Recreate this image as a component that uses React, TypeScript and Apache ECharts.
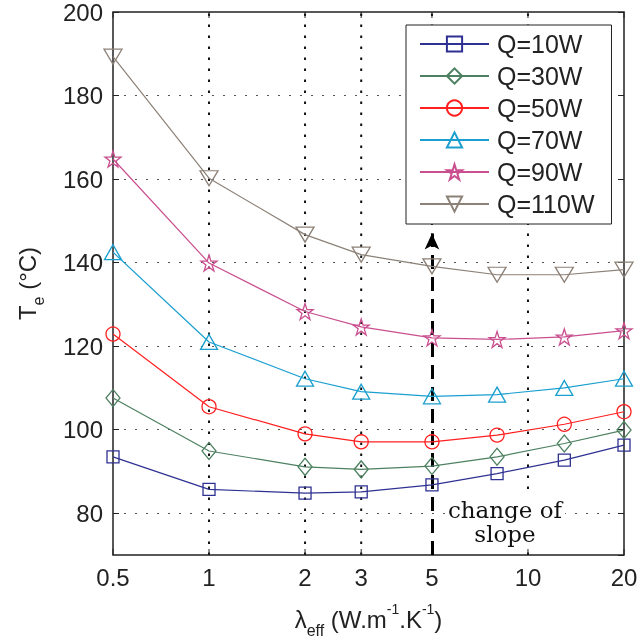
import React, { useEffect, useRef } from "react";
import * as echarts from "echarts";

const lambdaEff = [0.5, 1, 2, 3, 5, 8, 13, 20];
const q10 = [93.5, 85.7, 84.8, 85.1, 86.8, 89.5, 92.7, 96.3];
const q30 = [107.6, 94.9, 91.1, 90.5, 91.3, 93.5, 96.7, 99.9];
const q50 = [122.9, 105.5, 99.0, 97.1, 97.1, 98.7, 101.3, 104.3];
const q70 = [142.5, 121.0, 112.2, 109.1, 108.0, 108.4, 110.0, 112.2];
const q90 = [164.8, 139.9, 128.3, 124.6, 122.0, 121.6, 122.2, 123.7];
const q110 = [189.3, 160.2, 146.7, 141.9, 139.1, 137.1, 137.1, 138.3];
const seriesNames = ["Q=10W", "Q=30W", "Q=50W", "Q=70W", "Q=90W", "Q=110W"];

const xTicks = [0.5, 1, 2, 3, 5, 10, 20];
const xGrid = [1, 2, 3, 5, 10];
const X_MIN = 0.5;
const X_MAX = 20;
const Y_MIN = 70;
const Y_MAX = 200;
const arrowX = 5;
const arrowTipY = 147;

const FONT = '"Liberation Sans", Arial, Helvetica, sans-serif';
const INK = "#222";

const colors = ["#2f3192", "#4d8060", "#ff1f1f", "#1a9fd0", "#c94f8f", "#8c8177"];
const starPath =
  "path://M50,0L61.2,34.5L97.6,34.5L68.2,55.9L79.4,90.5L50,69.1L20.6,90.5L31.8,55.9L2.4,34.5L38.8,34.5Z";
const triDownPath = "path://M0,0L20,0L10,17.3Z";
const symbols = ["rect", "diamond", "circle", "triangle", starPath, triDownPath];
const symbolSizes: any[] = [12, [14, 17], 14, [17, 15], 16, [18, 15]];

export default function App() {
  const ref = useRef<HTMLDivElement>(null);
  useEffect(() => {
    if (!ref.current) return;
    const chart = echarts.init(ref.current, undefined, { renderer: "svg" });
    const allData = [q10, q30, q50, q70, q90, q110];

    const lineSeries = allData.map((vals, i) => ({
      name: seriesNames[i],
      type: "line",
      data: lambdaEff.map((x, j) => [x, vals[j]]),
      symbol: symbols[i],
      symbolSize: symbolSizes[i],
      showAllSymbol: true,
      z: 5,
      lineStyle: { color: colors[i], width: 1.2 },
      itemStyle: { color: "rgba(255,255,255,0)", borderColor: colors[i], borderWidth: 1.3 },
      emphasis: { disabled: true },
      ...(i === 5
        ? {
            markLine: {
              silent: true,
              symbol: ["none", "arrow"],
              symbolSize: [11, 16],
              label: { show: false },
              lineStyle: { color: "#000", width: 3, type: [14, 8] },
              data: [[{ coord: [arrowX, Y_MIN] }, { coord: [arrowX, arrowTipY] }]],
            },
          }
        : {}),
    }));

    const mainRich = {
      m: { fontSize: 24, fontFamily: FONT, color: INK, lineHeight: 26 },
      s: { fontSize: 16, fontFamily: FONT, color: INK, lineHeight: 16, padding: [22, 0, 0, 0] },
      p: { fontSize: 14, fontFamily: FONT, color: INK, lineHeight: 14, padding: [0, 0, 20, 0] },
    };

    chart.setOption({
      animation: false,
      grid: {
        left: 113,
        top: 12,
        right: 18,
        bottom: 87,
        show: true,
        borderColor: INK,
        borderWidth: 1.5,
        backgroundColor: "#fff",
      },
      legend: {
        data: seriesNames,
        orient: "vertical",
        left: 406,
        top: 25,
        z: 20,
        backgroundColor: "#fff",
        borderColor: INK,
        borderWidth: 1,
        borderRadius: 0,
        padding: [5, 17, 6, 13],
        itemGap: 4,
        itemWidth: 69,
        itemHeight: 19,
        selectedMode: false,
        textStyle: { fontSize: 25, fontFamily: FONT, color: INK, lineHeight: 28, padding: [0, 0, 0, 3] },
      },
      xAxis: {
        type: "log",
        logBase: 10,
        min: X_MIN,
        max: X_MAX,
        axisLine: { show: false },
        axisTick: { show: false },
        axisLabel: { show: false },
        splitLine: { show: false },
        name: "{m|λ}{s|eff}{m| (W.m}{p|-1}{m|.K}{p|-1}{m|)}",
        nameLocation: "middle",
        nameGap: 51,
        nameTextStyle: { rich: mainRich },
      },
      yAxis: [
        {
          type: "value",
          min: Y_MIN,
          max: Y_MAX,
          splitNumber: 7,
          axisLine: { show: false },
          axisTick: { show: true, inside: true, length: 6, lineStyle: { color: INK, width: 1 } },
          axisLabel: { fontSize: 24, fontFamily: FONT, color: INK, margin: 10, showMinLabel: false },
          splitLine: { show: true, lineStyle: { color: "#555", width: 1.1, type: [2, 9] } },
          name: "{m|T}{s|e}{m| (°C)}",
          nameLocation: "middle",
          nameGap: 73,
          nameTextStyle: { rich: mainRich },
        },
        {
          type: "value",
          position: "right",
          min: Y_MIN,
          max: Y_MAX,
          splitNumber: 7,
          axisLine: { show: false },
          axisTick: { show: true, inside: true, length: 6, lineStyle: { color: INK, width: 1 } },
          axisLabel: { show: false },
          splitLine: { show: false },
        },
      ],
      series: [
        {
          type: "custom",
          name: "xgrid",
          z: 1,
          silent: true,
          data: xGrid.map((v) => [v, Y_MIN]),
          renderItem: (params: any, api: any) => {
            const x = api.value(0);
            const pb = api.coord([x, Y_MIN]);
            const pt = api.coord([x, Y_MAX]);
            return {
              type: "line",
              shape: { x1: pb[0], y1: pb[1], x2: pt[0], y2: pt[1] },
              style: { stroke: "#111", lineWidth: 2, lineDash: [2.5, 8.5] },
            };
          },
        },
        {
          type: "custom",
          name: "xticks",
          z: 2,
          silent: true,
          data: xTicks.map((v) => [v, Y_MIN]),
          renderItem: (params: any, api: any) => {
            const x = api.value(0);
            const pb = api.coord([x, Y_MIN]);
            const pt = api.coord([x, Y_MAX]);
            return {
              type: "group",
              children: [
                { type: "line", shape: { x1: pb[0], y1: pb[1], x2: pb[0], y2: pb[1] - 6 }, style: { stroke: INK, lineWidth: 1 } },
                { type: "line", shape: { x1: pt[0], y1: pt[1], x2: pt[0], y2: pt[1] + 6 }, style: { stroke: INK, lineWidth: 1 } },
                {
                  type: "text",
                  x: pb[0],
                  y: pb[1] + 22,
                  style: { text: String(x), align: "center", verticalAlign: "middle", fontSize: 24, fontFamily: FONT, fill: INK },
                },
              ],
            };
          },
        },
        ...lineSeries,
      ],
      graphic: [
        {
          type: "text",
          x: 505,
          y: 522,
          z: 30,
          style: {
            text: "change of\nslope",
            align: "center",
            verticalAlign: "middle",
            fontSize: 23,
            fontFamily: '"DejaVu Serif", "Liberation Serif", serif',
            lineHeight: 24,
            fill: "#111",
            backgroundColor: "#fff",
            padding: [2, 3, 2, 3],
          },
        },
      ],
    });
    return () => chart.dispose();
  }, []);
  return <div ref={ref} style={{ position: "fixed", left: 0, top: 0, width: 642, height: 643 }} />;
}
